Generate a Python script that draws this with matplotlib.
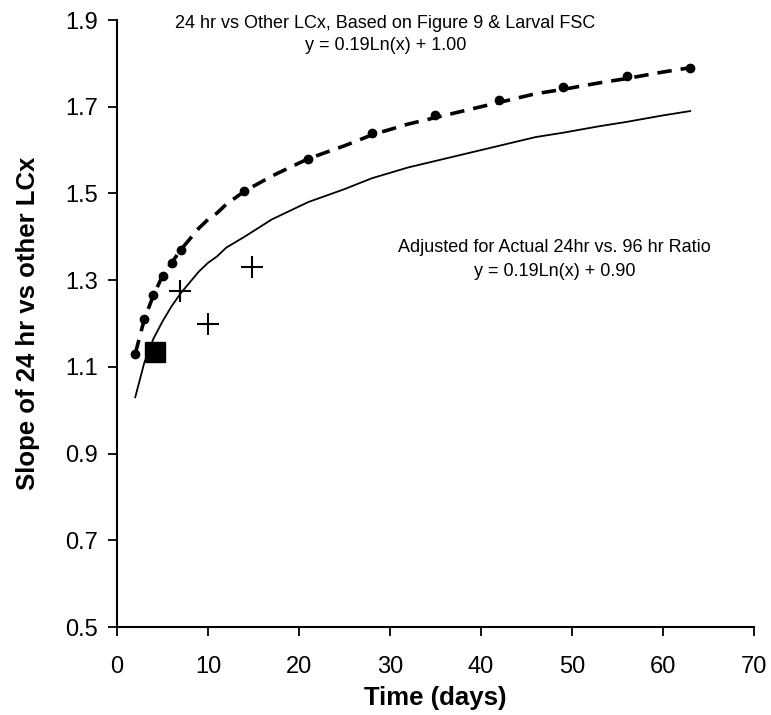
import matplotlib
matplotlib.use("Agg")
import matplotlib.pyplot as plt

plt.rcParams['font.family'] = ['Liberation Sans', 'DejaVu Sans']

# Dotted series markers (24 hr vs Other LCx, Figure 9 & Larval FSC)
dot_x = [2, 3, 4, 5, 6, 7, 14, 21, 28, 35, 42, 49, 56, 63]
dot_y = [1.13, 1.21, 1.265, 1.31, 1.34, 1.37, 1.505, 1.58, 1.64, 1.68, 1.715, 1.745, 1.77, 1.79]

# Dashed trend curve
dash_x = [2, 3, 4, 5, 6, 7, 8, 9, 10, 11, 12, 14, 17, 21, 25, 28, 32, 35, 39, 42, 46, 49, 53, 56, 60, 63]
dash_y = [1.13, 1.21, 1.265, 1.31, 1.34, 1.37, 1.395, 1.42, 1.44, 1.455, 1.475, 1.505, 1.54, 1.58,
          1.61, 1.635, 1.66, 1.675, 1.695, 1.71, 1.73, 1.74, 1.755, 1.765, 1.78, 1.79]

# Solid adjusted curve
solid_x = [2, 3, 4, 5, 6, 7, 8, 9, 10, 11, 12, 14, 17, 21, 25, 28, 32, 35, 39, 42, 46, 49, 53, 56, 60, 63]
solid_y = [1.03, 1.11, 1.165, 1.205, 1.24, 1.27, 1.295, 1.32, 1.34, 1.355, 1.375, 1.40, 1.44, 1.48,
           1.51, 1.535, 1.56, 1.575, 1.595, 1.61, 1.63, 1.64, 1.655, 1.665, 1.68, 1.69]

# Observed points
cross_x = [6.9, 10, 14.8]
cross_y = [1.275, 1.20, 1.33]
square_x = [4.2]
square_y = [1.135]

xticks = [0, 10, 20, 30, 40, 50, 60, 70]
yticks = [0.5, 0.7, 0.9, 1.1, 1.3, 1.5, 1.7, 1.9]

fig = plt.figure(figsize=(7.71, 7.15), dpi=100)
ax = fig.add_axes([0.1518, 0.123, 0.826, 0.849])

ax.plot(dash_x, dash_y, color='black', lw=2.6, ls=(0, (4, 2.5)), zorder=3)
ax.plot(dot_x, dot_y, 'o', color='black', ms=6, zorder=4)
ax.plot(solid_x, solid_y, color='black', lw=1.3, zorder=3)
ax.plot(cross_x, cross_y, '+', color='black', ms=16, mew=1.5, zorder=5)
ax.plot(square_x, square_y, 's', color='black', ms=14, zorder=5)

ax.set_xlim(0, 70)
ax.set_ylim(0.5, 1.9)
ax.set_xticks(xticks)
ax.set_yticks(yticks)
ax.set_xticklabels([str(v) for v in xticks])
ax.set_yticklabels([f"{v:.1f}" for v in yticks])
ax.tick_params(direction='out', length=6.5, width=1.3, labelsize=17)
ax.tick_params(axis='x', pad=14)
ax.tick_params(axis='y', pad=7)
for s in ['top', 'right']:
    ax.spines[s].set_visible(False)
for s in ['left', 'bottom']:
    ax.spines[s].set_linewidth(1.5)

ax.set_xlabel('Time (days)', fontsize=18.5, fontweight='bold', labelpad=6)
ax.set_ylabel('Slope of 24 hr vs other LCx', fontsize=18.5, fontweight='bold', labelpad=18)

ax.text(29.5, 1.893, '24 hr vs Other LCx, Based on Figure 9 & Larval FSC',
        ha='center', va='center', fontsize=13)
ax.text(29.5, 1.841, 'y = 0.19Ln(x) + 1.00', ha='center', va='center', fontsize=13)
ax.text(48.1, 1.375, 'Adjusted for Actual 24hr vs. 96 hr Ratio',
        ha='center', va='center', fontsize=13)
ax.text(48.1, 1.319, 'y = 0.19Ln(x) + 0.90', ha='center', va='center', fontsize=13)

fig.savefig('out.png', dpi=100)
